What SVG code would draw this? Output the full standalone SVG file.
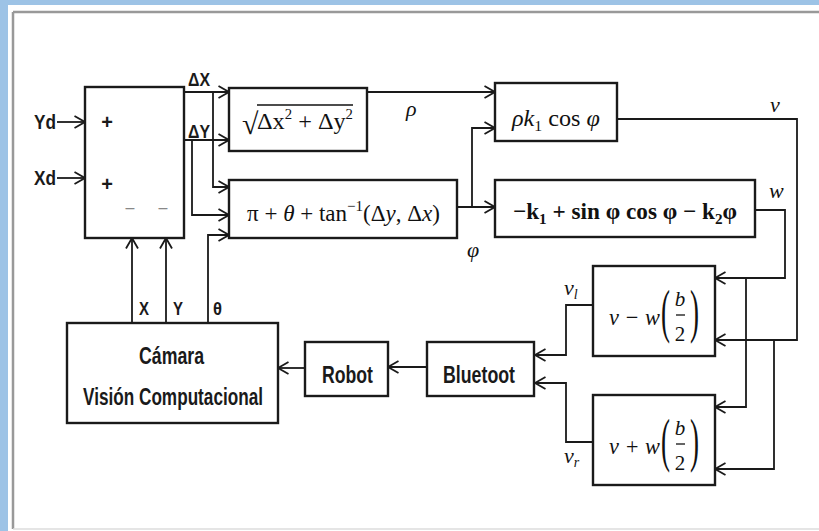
<svg xmlns="http://www.w3.org/2000/svg" width="819" height="531" viewBox="0 0 819 531">
<style>
.box{fill:#fff;stroke:#1a1a1a;stroke-width:2.4}
.ln{fill:none;stroke:#1a1a1a;stroke-width:1.8}
.lb{font-family:"Liberation Sans",Arial,sans-serif;font-weight:bold;fill:#1a1a1a}
.m{font-family:"Liberation Serif","DejaVu Serif",serif;fill:#111}
.i{font-style:italic}
</style>
<defs>
<marker id="ah" viewBox="0 0 12 14" markerWidth="12" markerHeight="14" refX="11.5" refY="7" orient="auto" markerUnits="userSpaceOnUse">
<path d="M1,1 L11.5,7 L1,13" fill="none" stroke="#1a1a1a" stroke-width="1.8"/>
</marker>
</defs>
<rect x="0" y="0" width="819" height="531" fill="#9dc3e6"/>
<rect x="8" y="5" width="811" height="526" fill="#fff"/>
<line x1="13" y1="12" x2="819" y2="12" stroke="#999" stroke-width="2.5"/>
<line x1="13" y1="12" x2="13" y2="529" stroke="#999" stroke-width="2.5"/>
<line x1="13" y1="529" x2="819" y2="529" stroke="#ddd" stroke-width="1.5"/>

<g id="connectors">
<path class="ln" marker-end="url(#ah)" d="M57,122 H85"/>
<path class="ln" marker-end="url(#ah)" d="M57,178 H85"/>
<path class="ln" marker-end="url(#ah)" d="M184,92 H229"/>
<path class="ln" marker-end="url(#ah)" d="M184,140 H229"/>
<path class="ln" marker-end="url(#ah)" d="M213,92 V187 H229"/>
<path class="ln" marker-end="url(#ah)" d="M192,140 V215 H229"/>
<path class="ln" marker-end="url(#ah)" d="M208,323 V235 H229"/>
<path class="ln" marker-end="url(#ah)" d="M132,323 V238"/>
<path class="ln" marker-end="url(#ah)" d="M166,323 V238"/>
<path class="ln" marker-end="url(#ah)" d="M367,92 H495"/>
<path class="ln" marker-end="url(#ah)" d="M457,207 H495"/>
<path class="ln" marker-end="url(#ah)" d="M472,207 V128 H495"/>
<path class="ln" marker-end="url(#ah)" d="M617,119 H797 V340 H715"/>
<path class="ln" marker-end="url(#ah)" d="M774,340 V469 H715"/>
<path class="ln" marker-end="url(#ah)" d="M755,210 H785 V278 H715"/>
<path class="ln" marker-end="url(#ah)" d="M746,278 V407 H715"/>
<path class="ln" marker-end="url(#ah)" d="M593,305 H566 V355 H535"/>
<path class="ln" marker-end="url(#ah)" d="M593,442 H566 V383 H535"/>
<path class="ln" marker-end="url(#ah)" d="M427,367 H388"/>
<path class="ln" marker-end="url(#ah)" d="M305,368 H278"/>
</g>

<g id="labels">
<text class="lb" x="34" y="129" font-size="20" textLength="22" lengthAdjust="spacingAndGlyphs">Yd</text>
<text class="lb" x="34" y="185" font-size="20" textLength="22" lengthAdjust="spacingAndGlyphs">Xd</text>
<text class="lb" x="188" y="86" font-size="18" textLength="22" lengthAdjust="spacingAndGlyphs">ΔX</text>
<text class="lb" x="188" y="138" font-size="18" textLength="22" lengthAdjust="spacingAndGlyphs">ΔY</text>
<text class="lb" x="139" y="315" font-size="18" textLength="10" lengthAdjust="spacingAndGlyphs">X</text>
<text class="lb" x="173" y="315" font-size="18" textLength="10" lengthAdjust="spacingAndGlyphs">Y</text>
<text class="lb" x="213" y="315" font-size="18" textLength="9" lengthAdjust="spacingAndGlyphs">θ</text>
<text class="m i" x="406" y="116" font-size="22">ρ</text>
<text class="m i" x="467" y="257" font-size="22">φ</text>
<text class="m i" x="770" y="112" font-size="22">v</text>
<text class="m i" x="769" y="198" font-size="22">w</text>
<text class="m i" x="564" y="295" font-size="22">v<tspan font-size="14" dy="4">l</tspan></text>
<text class="m i" x="564" y="463" font-size="22">v<tspan font-size="14" dy="4">r</tspan></text>
</g>

<g id="sum">
<rect class="box" x="85" y="87" width="99" height="151"/>
<text class="lb" x="107" y="129" font-size="20" text-anchor="middle">+</text>
<text class="lb" x="107" y="191" font-size="20" text-anchor="middle">+</text>
<text x="130" y="213" font-size="16" fill="#888" font-family="Liberation Sans,sans-serif" text-anchor="middle">–</text>
<text x="163" y="213" font-size="16" fill="#888" font-family="Liberation Sans,sans-serif" text-anchor="middle">–</text>
</g>

<g id="sqrt">
<rect class="box" x="229" y="88" width="138" height="63"/>
<text class="m" x="242" y="134" font-size="30">√</text>
<line x1="257" y1="105" x2="353" y2="105" stroke="#111" stroke-width="1.5"/>
<text class="m" x="257" y="129" font-size="23" textLength="96" lengthAdjust="spacingAndGlyphs">Δx<tspan font-size="14" dy="-10">2</tspan><tspan dy="10"> + Δy</tspan><tspan font-size="14" dy="-10">2</tspan></text>
</g>

<g id="angle">
<rect class="box" x="229" y="180" width="228" height="58"/>
<text class="m" x="247" y="221" font-size="23" textLength="193" lengthAdjust="spacingAndGlyphs">π + <tspan class="i">θ</tspan> + tan<tspan font-size="15" dy="-10">−1</tspan><tspan dy="10">(Δ</tspan><tspan class="i">y</tspan>, Δ<tspan class="i">x</tspan>)</text>
</g>

<g id="vel">
<rect class="box" x="495" y="83" width="122" height="58"/>
<text class="m" x="512" y="126" font-size="23" textLength="88" lengthAdjust="spacingAndGlyphs"><tspan class="i">ρk</tspan><tspan font-size="15" dy="5">1</tspan><tspan dy="-5"> cos </tspan><tspan class="i">φ</tspan></text>
</g>

<g id="omega">
<rect class="box" x="495" y="180" width="260" height="57"/>
<text class="m" x="513" y="219" font-size="23" font-weight="bold" textLength="224" lengthAdjust="spacingAndGlyphs">−k<tspan font-size="15" dy="5">1</tspan><tspan dy="-5"> + sin φ cos φ − k</tspan><tspan font-size="15" dy="5">2</tspan><tspan dy="-5">φ</tspan></text>
</g>

<g id="vl">
<rect class="box" x="593" y="266" width="122" height="90"/>
<text class="m i" x="609" y="325" font-size="23" textLength="51" lengthAdjust="spacingAndGlyphs">v − w</text>
<text class="m" transform="translate(661,331) scale(0.45,1)" font-size="60">(</text>
<text class="m" transform="translate(690,331) scale(0.45,1)" font-size="60">)</text>
<text class="m i" x="680" y="306" font-size="21" text-anchor="middle">b</text>
<line x1="676" y1="315" x2="685" y2="315" stroke="#111" stroke-width="1.3"/>
<text class="m" x="680" y="341" font-size="21" text-anchor="middle">2</text>
</g>

<g id="vr">
<rect class="box" x="593" y="395" width="122" height="90"/>
<text class="m i" x="609" y="454" font-size="23" textLength="51" lengthAdjust="spacingAndGlyphs">v + w</text>
<text class="m" transform="translate(661,460) scale(0.45,1)" font-size="60">(</text>
<text class="m" transform="translate(690,460) scale(0.45,1)" font-size="60">)</text>
<text class="m i" x="680" y="435" font-size="21" text-anchor="middle">b</text>
<line x1="676" y1="444" x2="685" y2="444" stroke="#111" stroke-width="1.3"/>
<text class="m" x="680" y="470" font-size="21" text-anchor="middle">2</text>
</g>

<g id="bluetooth">
<rect class="box" x="427" y="342" width="107" height="54"/>
<text class="lb" x="443" y="383" font-size="23" textLength="72" lengthAdjust="spacingAndGlyphs">Bluetoot</text>
</g>

<g id="robot">
<rect class="box" x="305" y="342" width="83" height="54"/>
<text class="lb" x="322" y="383" font-size="23" textLength="51" lengthAdjust="spacingAndGlyphs">Robot</text>
</g>

<g id="camera">
<rect class="box" x="67" y="323" width="211" height="100"/>
<text class="lb" x="139" y="364" font-size="23" textLength="65" lengthAdjust="spacingAndGlyphs">Cámara</text>
<text class="lb" x="83" y="405" font-size="23" textLength="180" lengthAdjust="spacingAndGlyphs">Visión Computacional</text>
</g>
</svg>
